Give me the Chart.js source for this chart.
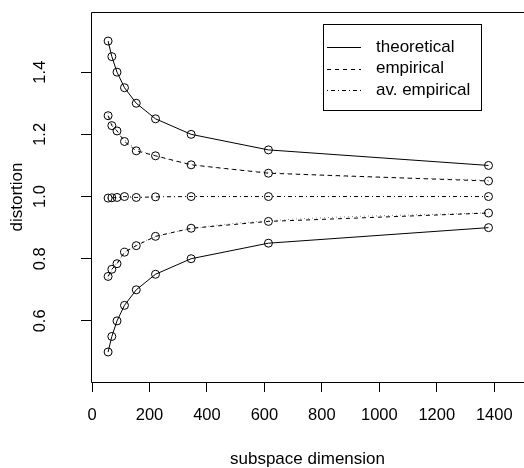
<!DOCTYPE html>
<html><head><meta charset="utf-8">
<script src="https://cdn.jsdelivr.net/npm/chart.js@4/dist/chart.umd.min.js"></script>
<style>html,body{margin:0;padding:0;background:#fff;overflow:hidden}</style>
</head><body><canvas id="c" width="524" height="468" style="display:block;width:524px;height:468px"></canvas>
<script>
const dims = [56, 69, 87, 113, 154, 221, 345, 614, 1380];
const theoUpper = [1.50, 1.45, 1.40, 1.35, 1.30, 1.25, 1.20, 1.15, 1.10];
const theoLower = [0.50, 0.55, 0.60, 0.65, 0.70, 0.75, 0.80, 0.85, 0.90];
const empUpper = [1.260, 1.228, 1.211, 1.177, 1.147, 1.131, 1.102, 1.075, 1.050];
const empLower = [0.743, 0.766, 0.784, 0.821, 0.842, 0.872, 0.898, 0.920, 0.947];
const avEmp = [0.995, 0.996, 0.997, 1.000, 0.997, 0.999, 1.000, 1.000, 1.000];
const smoothUpper = [1.268, 1.236, 1.212, 1.183, 1.155, 1.131, 1.104, 1.078, 1.052];
const smoothLower = [0.735, 0.762, 0.787, 0.818, 0.845, 0.869, 0.896, 0.922, 0.948];
const xTicks = [0, 200, 400, 600, 800, 1000, 1200, 1400];
const xTickLabels = ['0', '200', '400', '600', '800', '1000', '1200', '1400'];
const yTicks = [0.6, 0.8, 1.0, 1.2, 1.4];
const yTickLabels = ['0.6', '0.8', '1.0', '1.2', '1.4'];
const xTitle = 'subspace dimension';
const yTitle = 'distortion';
const legendLabels = ['theoretical', 'empirical', 'av. empirical'];

const FONT = "'Liberation Sans', Arial, Helvetica, sans-serif";
const pts = ys => dims.map((x, i) => ({x, y: ys[i]}));
const DASH = [4, 4], DASHDOT = [1, 3, 4, 3], DOT = [1, 3];

function markerSet(label, ys, dash) {
  return {label, data: pts(ys), showLine: true, borderColor: '#000', borderWidth: 1,
    borderDash: dash, pointRadius: 4, pointHoverRadius: 4, pointBorderWidth: 1,
    pointBorderColor: '#000', pointBackgroundColor: 'rgba(0,0,0,0)', fill: false};
}
function smoothSet(ys) {
  return {label: 'smooth', data: pts(ys), showLine: true, borderColor: '#8a8a8a', borderWidth: 1,
    borderDash: DOT, pointRadius: 0, cubicInterpolationMode: 'monotone', fill: false};
}

const decor = {
  id: 'decor',
  afterDraw(chart) {
    const ctx = chart.ctx, a = chart.chartArea, ys = chart.scales.y, xs = chart.scales.x;
    ctx.save();
    ctx.strokeStyle = '#000'; ctx.lineWidth = 1; ctx.setLineDash([]);
    const L = Math.round(a.left) + 0.5, T = Math.round(a.top) + 0.5, B = Math.round(a.bottom) + 0.5;
    ctx.beginPath();
    ctx.moveTo(a.right + 2, T); ctx.lineTo(L, T); ctx.lineTo(L, B); ctx.lineTo(a.right + 2, B);
    ctx.stroke();
    ctx.fillStyle = '#000';
    ctx.font = '16.5px ' + FONT;
    ctx.textAlign = 'center'; ctx.textBaseline = 'middle';
    yTicks.forEach((v, i) => {
      ctx.save();
      ctx.translate(40, ys.getPixelForValue(v));
      ctx.rotate(-Math.PI / 2);
      ctx.fillText(yTickLabels[i], 0, 0);
      ctx.restore();
    });
    xTicks.forEach((v, i) => {
      ctx.fillText(xTickLabels[i], xs.getPixelForValue(v), 415);
    });
    ctx.font = '17px ' + FONT;
    ctx.fillText(xTitle, (a.left + a.right) / 2, 459);
    ctx.save();
    ctx.translate(17, (a.top + a.bottom) / 2);
    ctx.rotate(-Math.PI / 2);
    ctx.fillText(yTitle, 0, 0);
    ctx.restore();
    // legend
    const lx = 323, ly = 24, lw = 158, lh = 86;
    ctx.strokeRect(lx + 0.5, ly + 0.5, lw, lh);
    const dashes = [[], DASH, DASHDOT];
    const rows = [47, 68.5, 90];
    ctx.textAlign = 'left';
    legendLabels.forEach((t, i) => {
      ctx.setLineDash(dashes[i]);
      ctx.beginPath();
      ctx.moveTo(327, Math.round(rows[i]) + 0.5);
      ctx.lineTo(361, Math.round(rows[i]) + 0.5);
      ctx.stroke();
      ctx.setLineDash([]);
      ctx.fillText(t, 376, rows[i]);
    });
    ctx.restore();
  }
};

new Chart(document.getElementById('c'), {
  type: 'scatter',
  data: {
    datasets: [
      markerSet(legendLabels[0], theoUpper, []),
      markerSet(legendLabels[0], theoLower, []),
      markerSet(legendLabels[1], empUpper, DASH),
      markerSet(legendLabels[1], empLower, DASH),
      markerSet(legendLabels[2], avEmp, DASHDOT),
      smoothSet(smoothUpper),
      smoothSet(smoothLower)
    ]
  },
  options: {
    responsive: false, animation: false, devicePixelRatio: 1,
    layout: {autoPadding: false, padding: {top: 12, right: 0, left: 0, bottom: 0}},
    plugins: {legend: {display: false}, tooltip: {enabled: false}},
    scales: {
      x: {
        type: 'linear', min: -3.5, max: 1503.5,
        afterBuildTicks: s => { s.ticks = xTicks.map(v => ({value: v})); },
        afterFit: s => { s.height = 86; },
        ticks: {display: false},
        grid: {drawOnChartArea: false, drawTicks: true, tickLength: 10, color: '#000', tickColor: '#000'},
        border: {display: false}
      },
      y: {
        type: 'linear', min: 0.4035, max: 1.5935,
        afterBuildTicks: s => { s.ticks = yTicks.map(v => ({value: v})); },
        afterFit: s => { s.width = 91; },
        ticks: {display: false},
        grid: {drawOnChartArea: false, drawTicks: true, tickLength: 10, color: '#000', tickColor: '#000'},
        border: {display: false}
      }
    }
  },
  plugins: [decor]
});
</script></body></html>
